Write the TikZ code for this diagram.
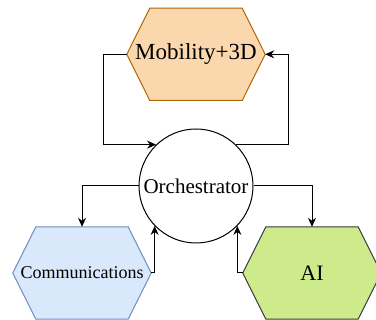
\documentclass[tikz,border=0pt]{standalone}
\usepackage{fontspec}
\setmainfont{Liberation Serif}
\newfontfamily\serifface{Liberation Serif}
\usetikzlibrary{arrows.meta, positioning, calc, backgrounds}

\definecolor{mobfill}{HTML}{FAD7AC}
\definecolor{mobline}{HTML}{B46504}
\definecolor{comfill}{HTML}{DAE8FC}
\definecolor{comline}{HTML}{6C8EBF}
\definecolor{aifill}{HTML}{CDEB8B}
\definecolor{ailine}{HTML}{36393D}

% hexagon outline round a named box: #1 node, #2 fill, #3 line
\newcommand{\hexoutline}[3]{%
  \filldraw[fill=#2, draw=#3, line width=1pt]
    (#1.west) -- ($(#1.north west)+(23,0)$) -- ($(#1.north east)+(-23,0)$)
    -- (#1.east) -- ($(#1.south east)+(-23,0)$) -- ($(#1.south west)+(23,0)$) -- cycle;}

\begin{document}
\begin{tikzpicture}[
    x=1pt, y=1pt,
    hexbox/.style={rectangle, minimum width=138pt, minimum height=92pt, inner sep=0pt, align=center},
    hub/.style={circle, draw=black, fill=white, line width=1pt, minimum size=114pt, inner sep=0pt},
    arrow/.style={-{Stealth[length=9pt,width=8pt]}, line width=1pt, draw=black}
]
\useasboundingbox (0,0) rectangle (376,-320);

% --- NODES ---
\node (orch) [hub, font=\serifface\fontsize{21}{25}\selectfont] at (196,-186) {Orchestrator};
\node (mob) [hexbox, above=28pt of orch, font=\serifface\fontsize{23}{27}\selectfont] {Mobility+3D};
\node (comm) [hexbox, font=\serifface\fontsize{18}{22}\selectfont] at ($(orch)+(-114,-87)$) {Communications};
\node (ai) [hexbox, font=\serifface\fontsize{22}{26}\selectfont] at ($(orch)+(116,-87)$) {AI};

% --- SHAPES ---
\begin{scope}[on background layer]
  \hexoutline{mob}{mobfill}{mobline}
  \hexoutline{comm}{comfill}{comline}
  \hexoutline{ai}{aifill}{ailine}
\end{scope}

% --- CONNECTIONS ---
\draw [arrow] (mob.west) -- ++(-23,0) |- (orch.134);
\draw [arrow] (orch.46) -- ++(53,0) |- (mob.east);
\draw [arrow] (orch.west) -| (comm.north);
\draw [arrow] (comm.east) -| (orch.224);
\draw [arrow] (orch.east) -| (ai.north);
\draw [arrow] (ai.west) -| (orch.316);

\end{tikzpicture}
\end{document}
